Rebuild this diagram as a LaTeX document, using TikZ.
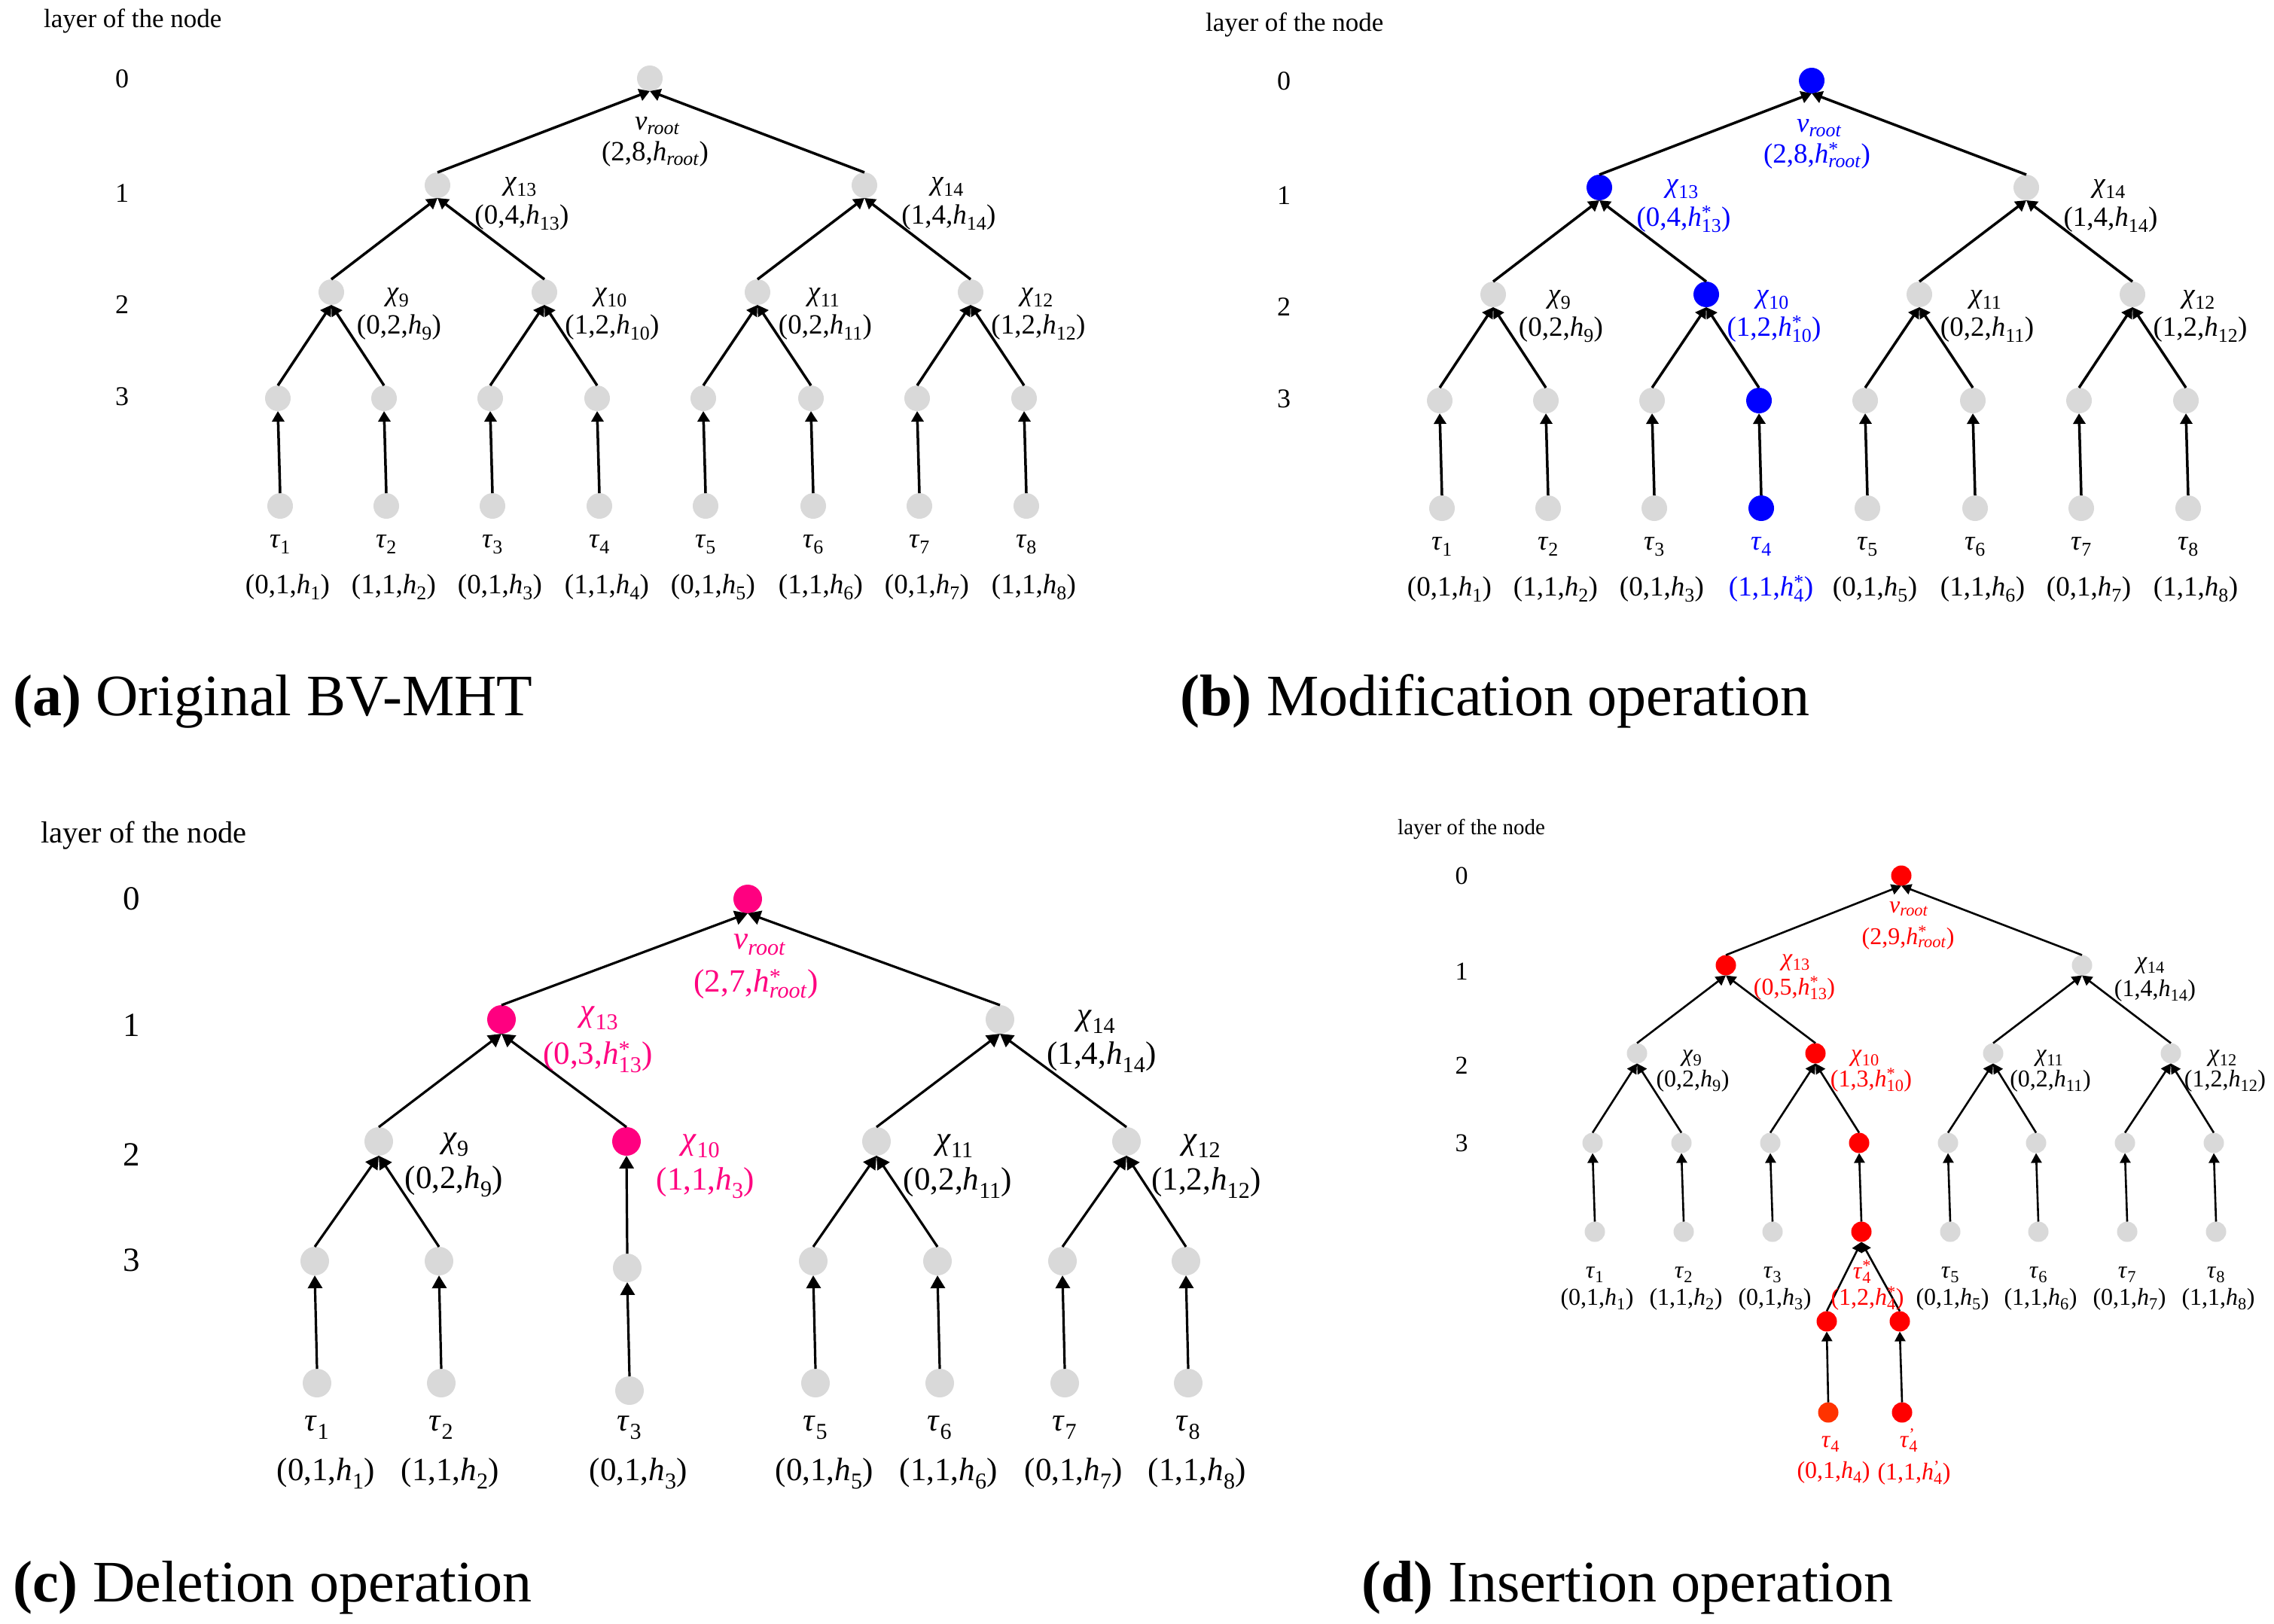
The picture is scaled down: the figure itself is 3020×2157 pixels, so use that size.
\documentclass[tikz,border=0pt]{standalone}
\usepackage{fontspec}
\setmainfont{Liberation Serif}
\usetikzlibrary{arrows.meta}
\definecolor{gnode}{RGB}{217,217,217}
\definecolor{mblue}{RGB}{0,0,255}
\definecolor{mpink}{RGB}{255,0,128}
\definecolor{mred}{RGB}{255,0,0}
\definecolor{mora}{RGB}{255,51,0}
\newcommand\hS[1]{\textit{h}\textsubscript{#1}}
\newcommand\hX[2]{\textit{h}\rlap{\textsuperscript{#2}}\textsubscript{#1}}
\newcommand\tauS[1]{\textit{τ}\textsubscript{#1}}
\newcommand\chiS[1]{\textit{χ}\textsubscript{#1}}
\newcommand\nuR{\textit{ν}\textsubscript{\textit{root}}}
\newcommand\rootS{\textsubscript{\textit{root}}}
\newcommand\rootX[1]{\rlap{\textsuperscript{#1}}\textsubscript{\textit{root}}}
\begin{document}
\begin{tikzpicture}[x=1pt,y=-1pt,
  tn/.style={circle, fill=gnode, minimum size=34pt, inner sep=0pt, outer sep=0pt},
  tnc/.style={tn, minimum size=38pt},
  tnd/.style={tn, minimum size=27pt},
  arA/.style={line width=3.5pt, -{Triangle[length=14pt,width=16pt]}},
  arC/.style={line width=3.2pt, -{Triangle[length=17pt,width=19pt]}},
  arD/.style={line width=2.6pt, -{Triangle[length=13pt,width=14pt]}},
  fA/.style={font=\fontsize{37}{40}\selectfont, anchor=base, inner sep=0pt},
  fC/.style={font=\fontsize{43}{46}\selectfont, anchor=base, inner sep=0pt},
  fD/.style={font=\fontsize{32}{34}\selectfont, anchor=base, inner sep=0pt},
  capt/.style={font=\fontsize{78}{84}\selectfont, anchor=base west, inner sep=0pt},
  layA/.style={font=\fontsize{35}{38}\selectfont, anchor=base west, inner sep=0pt},
  layC/.style={layA, font=\fontsize{40.5}{44}\selectfont},
  layD/.style={layA, font=\fontsize{29}{31}\selectfont},
  digA/.style={font=\fontsize{36}{38}\selectfont, inner sep=0pt},
  digC/.style={font=\fontsize{45}{48}\selectfont, inner sep=0pt},
  digD/.style={font=\fontsize{34}{36}\selectfont, inner sep=0pt},
]
\fill[white] (0,0) rectangle (3020,2157);
\path[use as bounding box] (0,0) rectangle (3020,2157);

% ================= (a) =================
\node[layA] (a-title) at (58,37) {layer of the node};
\foreach \k/\yy in {0/105,1/257,2/405,3/527}{\node[digA] (a-d\k) at (162,\yy) {\k};}
\foreach \i/\x in {1/369,2/510,3/651,4/793,5/934,6/1077,7/1218,8/1360}{
  \pgfmathtruncatemacro{\bb}{mod(\i+1,2)}
  \node[tn] (a-m\i) at (\x,529) {};
  \node[tn] (a-s\i) at (\x+3,672) {};
  \draw[arA] (a-s\i.north) -- (a-m\i.south);
  \node[fA] (a-tl\i) at (\x+3,727) {\tauS{\i}};
  \node[fA] (a-tt\i) at (\x+13,788) {(\bb,1,\hS{\i})};
}
\foreach \j/\x/\lc/\rc/\bb in {9/440/1/2/0,10/723/3/4/1,11/1006/5/6/0,12/1289/7/8/1}{
  \node[tn] (a-c\j) at (\x,388) {};
  \draw[arA] (a-m\lc.north) -- (a-c\j.south);
  \draw[arA] (a-m\rc.north) -- (a-c\j.south);
  \node[fA] (a-cl\j) at (\x+88,399) {\chiS{\j}};
  \node[fA] (a-ct\j) at (\x+90,443) {(\bb,2,\hS{\j})};
}
\foreach \j/\x/\lc/\rc/\bb in {13/581/9/10/0,14/1148/11/12/1}{
  \node[tn] (a-c\j) at (\x,246) {};
  \draw[arA] (a-c\lc.north) -- (a-c\j.south);
  \draw[arA] (a-c\rc.north) -- (a-c\j.south);
  \node[fA] (a-cl\j) at (\x+110,252) {\chiS{\j}};
  \node[fA] (a-ct\j) at (\x+112,297) {(\bb,4,\hS{\j})};
}
\node[tn] (a-r) at (863,104) {};
\draw[arA] (a-c13.north) -- (a-r.south);
\draw[arA] (a-c14.north) -- (a-r.south);
\node[fA] (a-rl) at (873,172) {\nuR};
\node[fA] (a-rt) at (870,213) {(2,8,\textit{h}\rootS)};
\node[capt] (a-cap) at (17,950) {\textbf{(a)} Original BV-MHT};

% ================= (b) =================
\begin{scope}[shift={(1543,3)}]
\node[layA] (b-title) at (58,39) {layer of the node};
\foreach \k/\yy in {0/105,1/257,2/405,3/527}{\node[digA] (b-d\k) at (162,\yy) {\k};}
\foreach \i/\x/\col in {1/369/gnode,2/510/gnode,3/651/gnode,4/793/mblue,5/934/gnode,6/1077/gnode,7/1218/gnode,8/1360/gnode}{
  \node[tn, fill=\col] (b-m\i) at (\x,529) {};
  \node[tn, fill=\col] (b-s\i) at (\x+3,672) {};
  \draw[arA] (b-s\i.north) -- (b-m\i.south);
}
\foreach \i/\x in {1/369,2/510,3/651,5/934,6/1077,7/1218,8/1360}{
  \pgfmathtruncatemacro{\bb}{mod(\i+1,2)}
  \node[fA] (b-tl\i) at (\x+3,727) {\tauS{\i}};
  \node[fA] (b-tt\i) at (\x+13,788) {(\bb,1,\hS{\i})};
}
\node[fA, text=mblue] (b-tl4) at (796,727) {\tauS{4}};
\node[fA, text=mblue] (b-tt4) at (809,788) {(1,1,\hX{4}{*})};
\foreach \j/\x/\lc/\rc/\col/\tc/\tup in {9/440/1/2/gnode/black/{(0,2,\hS{9})},10/723/3/4/mblue/mblue/{(1,2,\hX{10}{*})},11/1006/5/6/gnode/black/{(0,2,\hS{11})},12/1289/7/8/gnode/black/{(1,2,\hS{12})}}{
  \node[tn, fill=\col] (b-c\j) at (\x,388) {};
  \draw[arA] (b-m\lc.north) -- (b-c\j.south);
  \draw[arA] (b-m\rc.north) -- (b-c\j.south);
  \node[fA, text=\tc] (b-cl\j) at (\x+88,399) {\chiS{\j}};
  \node[fA, text=\tc] (b-ct\j) at (\x+90,443) {\tup};
}
\foreach \j/\x/\lc/\rc/\col/\tc/\tup in {13/581/9/10/mblue/mblue/{(0,4,\hX{13}{*})},14/1148/11/12/gnode/black/{(1,4,\hS{14})}}{
  \node[tn, fill=\col] (b-c\j) at (\x,246) {};
  \draw[arA] (b-c\lc.north) -- (b-c\j.south);
  \draw[arA] (b-c\rc.north) -- (b-c\j.south);
  \node[fA, text=\tc] (b-cl\j) at (\x+110,252) {\chiS{\j}};
  \node[fA, text=\tc] (b-ct\j) at (\x+112,297) {\tup};
}
\node[tn, fill=mblue] (b-r) at (863,104) {};
\draw[arA] (b-c13.north) -- (b-r.south);
\draw[arA] (b-c14.north) -- (b-r.south);
\node[fA, text=mblue] (b-rl) at (873,172) {\nuR};
\node[fA, text=mblue] (b-rt) at (870,213) {(2,8,\textit{h}\rootX{*})};
\end{scope}
\node[capt] (b-cap) at (1567,950) {\textbf{(b)} Modification operation};

% ================= (c) =================
\node[layC] (c-title) at (54,1119) {layer of the node};
\foreach \k/\yy in {0/1194,1/1362,2/1534,3/1674}{\node[digC] (c-d\k) at (175,\yy) {\k};}
\foreach \i/\x/\ym/\ys in {1/418/1675/1837,2/583/1675/1837,3/833/1684/1847,5/1080/1675/1837,6/1245/1675/1837,7/1411/1675/1837,8/1575/1675/1837}{
  \pgfmathtruncatemacro{\bb}{mod(\i+1,2)}
  \node[tnc] (c-m\i) at (\x,\ym) {};
  \node[tnc] (c-s\i) at (\x+3,\ys) {};
  \draw[arC] (c-s\i.north) -- (c-m\i.south);
  \node[fC] (c-tl\i) at (\x+3,1900) {\tauS{\i}};
  \node[fC] (c-tt\i) at (\x+15,1966) {(\bb,1,\hS{\i})};
}
\node[tnc] (c-c9) at (503,1516) {};
\node[tnc, fill=mpink] (c-c10) at (832,1516) {};
\node[tnc] (c-c11) at (1164,1516) {};
\node[tnc] (c-c12) at (1496,1516) {};
\draw[arC] (c-m1.north) -- (c-c9.south);
\draw[arC] (c-m2.north) -- (c-c9.south);
\draw[arC] (c-m3.north) -- (c-c10.south);
\draw[arC] (c-m5.north) -- (c-c11.south);
\draw[arC] (c-m6.north) -- (c-c11.south);
\draw[arC] (c-m7.north) -- (c-c12.south);
\draw[arC] (c-m8.north) -- (c-c12.south);
\node[fC] (c-cl9) at (605,1524) {\chiS{9}};
\node[fC] (c-ct9) at (603,1578) {(0,2,\hS{9})};
\node[fC, text=mpink] (c-cl10) at (931,1526) {\chiS{10}};
\node[fC, text=mpink] (c-ct10) at (937,1580) {(1,1,\hS{3})};
\node[fC] (c-cl11) at (1268,1526) {\chiS{11}};
\node[fC] (c-ct11) at (1272,1580) {(0,2,\hS{11})};
\node[fC] (c-cl12) at (1596,1526) {\chiS{12}};
\node[fC] (c-ct12) at (1602,1580) {(1,2,\hS{12})};
\node[tnc, fill=mpink] (c-c13) at (666,1354) {};
\node[tnc] (c-c14) at (1328,1354) {};
\draw[arC] (c-c9.north) -- (c-c13.south);
\draw[arC] (c-c10.north) -- (c-c13.south);
\draw[arC] (c-c11.north) -- (c-c14.south);
\draw[arC] (c-c12.north) -- (c-c14.south);
\node[fC, text=mpink] (c-cl13) at (796,1356) {\chiS{13}};
\node[fC, text=mpink] (c-ct13) at (794,1413) {(0,3,\hX{13}{*})};
\node[fC] (c-cl14) at (1456,1361) {\chiS{14}};
\node[fC] (c-ct14) at (1463,1413) {(1,4,\hS{14})};
\node[tnc, fill=mpink] (c-r) at (993,1194) {};
\draw[arC] (c-c13.north) -- (c-r.south);
\draw[arC] (c-c14.north) -- (c-r.south);
\node[fC, text=mpink] (c-rl) at (1009,1260) {\nuR};
\node[fC, text=mpink] (c-rt) at (1004,1317) {(2,7,\textit{h}\rootX{*})};
\node[capt] (c-cap) at (17,2127) {\textbf{(c)} Deletion operation};

% ================= (d) =================
\node[layD] (d-title) at (1856,1108) {layer of the node};
\foreach \k/\yy in {0/1163,1/1290,2/1415,3/1518}{\node[digD] (d-d\k) at (1941,\yy) {\k};}
\foreach \i/\x/\col in {1/2115/gnode,2/2233/gnode,3/2351/gnode,4/2469/mred,5/2587/gnode,6/2704/gnode,7/2822/gnode,8/2940/gnode}{
  \node[tnd, fill=\col] (d-m\i) at (\x,1518) {};
  \node[tnd, fill=\col] (d-s\i) at (\x+3,1636) {};
  \draw[arD] (d-s\i.north) -- (d-m\i.south);
}
\foreach \i/\x in {1/2115,2/2233,3/2351,5/2587,6/2704,7/2822,8/2940}{
  \pgfmathtruncatemacro{\bb}{mod(\i+1,2)}
  \node[fD] (d-tl\i) at (\x+3,1697) {\tauS{\i}};
  \node[fD] (d-tt\i) at (\x+6,1733) {(\bb,1,\hS{\i})};
}
\node[tnd, fill=mred] (d-n1) at (2426,1755) {};
\node[tnd, fill=mred] (d-n2) at (2523,1755) {};
\node[tnd, fill=mora] (d-b1) at (2428,1876) {};
\node[tnd, fill=mred] (d-b2) at (2526,1876) {};
\draw[arD] (d-n1.north) -- (d-s4.south);
\draw[arD] (d-n2.north) -- (d-s4.south);
\draw[arD] (d-b1.north) -- (d-n1.south);
\draw[arD] (d-b2.north) -- (d-n2.south);
\node[fD, text=mred] (d-tl4) at (2473,1698) {\textit{τ}\rlap{\textsuperscript{*}}\textsubscript{4}};
\node[fD, text=mred] (d-tt4) at (2480,1733) {(1,2,\hX{4}{*})};
\node[fD, text=mred] (d-bl1) at (2431,1922) {\tauS{4}};
\node[fD, text=mred] (d-bt1) at (2435,1963) {(0,1,\hS{4})};
\node[fD, text=mred] (d-bl2) at (2535,1922) {\textit{τ}\rlap{\textsuperscript{'}}\textsubscript{4}};
\node[fD, text=mred] (d-bt2) at (2542,1965) {(1,1,\hX{4}{'})};
\node[tnd] (d-c9) at (2174,1399) {};
\node[tnd, fill=mred] (d-c10) at (2411,1399) {};
\node[tnd] (d-c11) at (2647,1399) {};
\node[tnd] (d-c12) at (2883,1399) {};
\draw[arD] (d-m1.north) -- (d-c9.south);
\draw[arD] (d-m2.north) -- (d-c9.south);
\draw[arD] (d-m3.north) -- (d-c10.south);
\draw[arD] (d-m4.north) -- (d-c10.south);
\draw[arD] (d-m5.north) -- (d-c11.south);
\draw[arD] (d-m6.north) -- (d-c11.south);
\draw[arD] (d-m7.north) -- (d-c12.south);
\draw[arD] (d-m8.north) -- (d-c12.south);
\node[fD] (d-cl9) at (2247,1409) {\chiS{9}};
\node[fD] (d-ct9) at (2248,1443) {(0,2,\hS{9})};
\node[fD, text=mred] (d-cl10) at (2477,1409) {\chiS{10}};
\node[fD, text=mred] (d-ct10) at (2485,1443) {(1,3,\hX{10}{*})};
\node[fD] (d-cl11) at (2722,1409) {\chiS{11}};
\node[fD] (d-ct11) at (2723,1443) {(0,2,\hS{11})};
\node[fD] (d-cl12) at (2952,1409) {\chiS{12}};
\node[fD] (d-ct12) at (2955,1443) {(1,2,\hS{12})};
\node[tnd, fill=mred] (d-c13) at (2292,1282) {};
\node[tnd] (d-c14) at (2765,1282) {};
\draw[arD] (d-c9.north) -- (d-c13.south);
\draw[arD] (d-c10.north) -- (d-c13.south);
\draw[arD] (d-c11.north) -- (d-c14.south);
\draw[arD] (d-c12.north) -- (d-c14.south);
\node[fD, text=mred] (d-cl13) at (2385,1282) {\chiS{13}};
\node[fD, text=mred] (d-ct13) at (2383,1321) {(0,5,\hX{13}{*})};
\node[fD] (d-cl14) at (2856,1286) {\chiS{14}};
\node[fD] (d-ct14) at (2862,1323) {(1,4,\hS{14})};
\node[tnd, fill=mred] (d-r) at (2525,1163) {};
\draw[arD] (d-c13.north) -- (d-r.south);
\draw[arD] (d-c14.north) -- (d-r.south);
\node[fD, text=mred] (d-rl) at (2535,1212) {\nuR};
\node[fD, text=mred] (d-rt) at (2534,1254) {(2,9,\textit{h}\rootX{*})};
\node[capt] (d-cap) at (1808,2127) {\textbf{(d)} Insertion operation};
\end{tikzpicture}
\end{document}
